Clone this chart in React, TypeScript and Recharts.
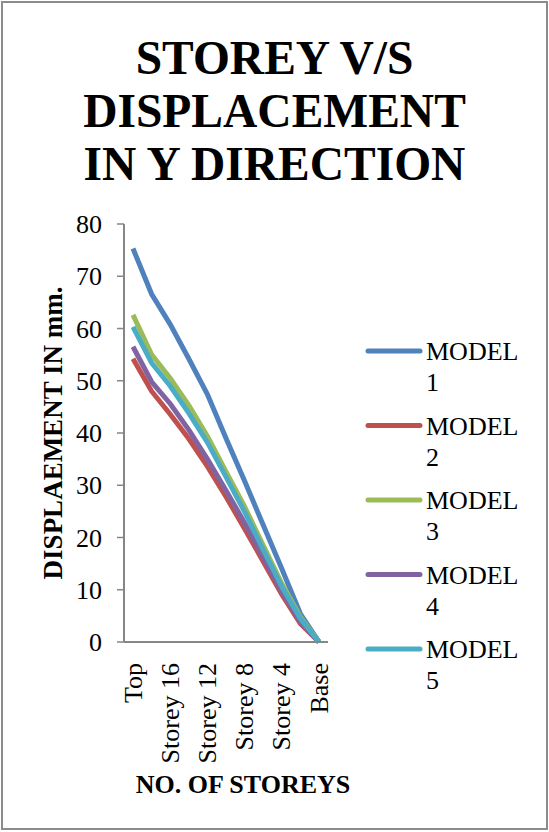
import { LineChart, Line, XAxis, YAxis, Legend, Label } from "recharts";

// Storey levels from roof down to base
const storeys = [
  "Top",
  "Storey 18",
  "Storey 16",
  "Storey 14",
  "Storey 12",
  "Storey 10",
  "Storey 8",
  "Storey 6",
  "Storey 4",
  "Storey 2",
  "Base",
];

// Displacement in Y direction (mm) for each model
const model1 = [75.3, 66.6, 60.8, 54.2, 47.4, 39.0, 30.8, 22.4, 14.0, 5.4, 0];
const model2 = [54.2, 48.0, 43.6, 38.9, 33.6, 27.8, 21.7, 15.4, 9.1, 3.5, 0];
const model3 = [62.6, 55.0, 50.5, 45.3, 39.4, 32.6, 25.9, 18.5, 11.2, 4.8, 0];
const model4 = [56.5, 49.8, 45.6, 40.6, 35.0, 29.0, 22.8, 16.2, 9.7, 3.9, 0];
const model5 = [60.3, 53.4, 49.0, 43.8, 38.2, 31.6, 24.9, 17.7, 10.6, 4.5, 0];

const yTicks = [0, 10, 20, 30, 40, 50, 60, 70, 80];

const data = storeys.map((storey, i) => ({
  storey,
  m1: model1[i],
  m2: model2[i],
  m3: model3[i],
  m4: model4[i],
  m5: model5[i],
}));

const series = [
  { key: "m1", name: "MODEL 1", color: "#4F81BD" },
  { key: "m2", name: "MODEL 2", color: "#C0504D" },
  { key: "m3", name: "MODEL 3", color: "#9BBB59" },
  { key: "m4", name: "MODEL 4", color: "#8064A2" },
  { key: "m5", name: "MODEL 5", color: "#4BACC6" },
];

const FONT = "'Liberation Serif', 'Times New Roman', serif";
const AXIS = "#868686";

function StoreyTick(props: any) {
  const { x, y, payload } = props;
  const ty = y + 13;
  return (
    <text
      x={x}
      y={ty}
      transform={`rotate(-90, ${x}, ${ty})`}
      textAnchor="end"
      dominantBaseline="central"
      fontSize={26}
      fontFamily={FONT}
      fill="#000"
    >
      {payload.value}
    </text>
  );
}

function ModelLegend(props: any) {
  const items = props.payload || [];
  return (
    <svg width={180} height={380} style={{ display: "block" }}>
      {items.map((item: any, i: number) => {
        const cy = 21 + i * 74.5;
        const [word, num] = String(item.value).split(" ");
        return (
          <g key={item.value}>
            <line
              x1={10}
              x2={62}
              y1={cy}
              y2={cy}
              stroke={item.color}
              strokeWidth={5}
              strokeLinecap="round"
            />
            <text x={68} y={cy + 9} fontSize={26} fontFamily={FONT} fill="#000">
              {word}
            </text>
            <text x={68} y={cy + 40} fontSize={26} fontFamily={FONT} fill="#000">
              {num}
            </text>
          </g>
        );
      })}
    </svg>
  );
}

export default function App() {
  return (
    <div
      style={{
        position: "absolute",
        left: 0,
        top: 0,
        width: 549,
        height: 832,
        background: "#fff",
        fontFamily: FONT,
      }}
    >
      <div
        style={{
          position: "absolute",
          left: 1,
          top: 1,
          width: 547,
          height: 829,
          border: "2px solid #8c8c8c",
          boxSizing: "border-box",
        }}
      />
      <div
        style={{
          position: "absolute",
          left: 0,
          top: 32,
          width: 549,
          textAlign: "center",
          fontWeight: "bold",
          fontSize: 47.5,
          lineHeight: "53px",
          color: "#000",
        }}
      >
        STOREY V/S
        <br />
        DISPLACEMENT
        <br />
        IN Y DIRECTION
      </div>
      <LineChart
        width={549}
        height={832}
        data={data}
        margin={{ top: 224, right: 41, bottom: 0, left: 64 }}
        style={{ position: "absolute", left: 0, top: 0 }}
      >
        <XAxis
          dataKey="storey"
          interval={1}
          tickLine={false}
          axisLine={{ stroke: AXIS, strokeWidth: 2 }}
          padding={{ left: 9, right: 9 }}
          height={190}
          tick={<StoreyTick />}
        >
          <Label
            content={() => (
              <text
                x={243}
                y={793}
                textAnchor="middle"
                fontSize={26}
                fontWeight="bold"
                fontFamily={FONT}
                fill="#000"
              >
                NO. OF STOREYS
              </text>
            )}
          />
        </XAxis>
        <YAxis
          width={60}
          domain={[0, 80]}
          ticks={yTicks}
          tickSize={7}
          tickMargin={15}
          axisLine={{ stroke: AXIS, strokeWidth: 2 }}
          tickLine={{ stroke: AXIS, strokeWidth: 1.5 }}
          tick={{ fontSize: 26, fontFamily: FONT, fill: "#000" }}
        >
          <Label
            content={() => (
              <text
                x={62}
                y={433}
                transform="rotate(-90, 62, 433)"
                textAnchor="middle"
                fontSize={27}
                fontWeight="bold"
                fontFamily={FONT}
                fill="#000"
              >
                DISPLAEMENT IN mm.
              </text>
            )}
          />
        </YAxis>
        <Legend
          layout="vertical"
          align="right"
          verticalAlign="middle"
          content={<ModelLegend />}
          wrapperStyle={{ position: "absolute", left: 358, top: 330, width: 180 }}
        />
        {series.map((s) => (
          <Line
            key={s.key}
            dataKey={s.key}
            name={s.name}
            stroke={s.color}
            strokeWidth={5}
            dot={false}
            type="linear"
            isAnimationActive={false}
          />
        ))}
      </LineChart>
    </div>
  );
}
